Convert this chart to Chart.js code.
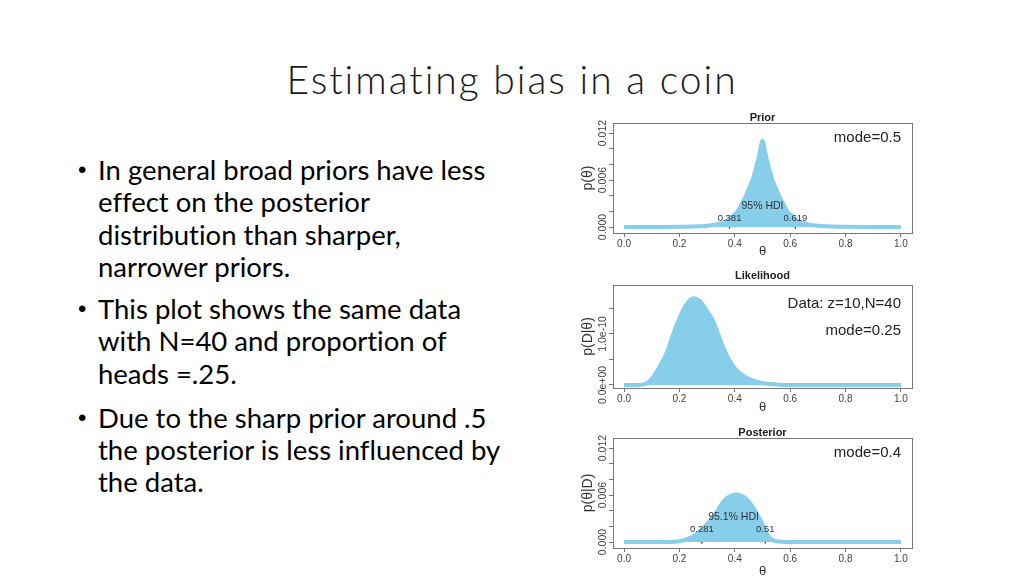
<!DOCTYPE html>
<html lang="en">
<head>
<meta charset="UTF-8">
<title>Estimating bias in a coin</title>
<script src="https://cdn.jsdelivr.net/npm/chart.js"></script>
<style>
  body { margin: 0; width: 1024px; height: 576px; overflow: hidden; background: #fff; position: relative;
         font-family: Lato, "Open Sans", sans-serif; font-variant-ligatures: none; }
  #title { position: absolute; left: 0; width: 1024px; top: 55.5px; text-align: center; font-size: 39px;
           letter-spacing: 2px; font-weight: 300; line-height: 1.2; color: #1a1a1a; white-space: nowrap; }
  .para { position: absolute; left: 98px; font-size: 27.5px; line-height: 32.3px; color: #000; white-space: nowrap; }
  .para::before { content: '\2022'; position: absolute; left: -20px; font-family: Arial, "Liberation Sans", sans-serif; font-size: 24px; }
  .plot { position: absolute; left: 580px; }
</style>
</head>
<body>
  <div id="title">Estimating bias in a coin</div>

  <div class="para" style="top:154px">In general broad priors have less<br>effect on the posterior<br>distribution than sharper,<br>narrower priors.</div>
  <div class="para" style="top:293px">This plot shows the same data<br>with N=40 and proportion of<br>heads =.25.</div>
  <div class="para" style="top:401.5px">Due to the sharp prior around .5<br>the posterior is less influenced by<br>the data.</div>

  <canvas id="priorChart" class="plot" width="340" height="150" style="top:110px"></canvas>
  <canvas id="likChart" class="plot" width="340" height="150" style="top:265px"></canvas>
  <canvas id="postChart" class="plot" width="340" height="151" style="top:425px"></canvas>

<script>
  // values
  const xTicks = [0, 0.2, 0.4, 0.6, 0.8, 1.0];

  const thetaPrior = [0, 0.1, 0.2, 0.25, 0.3, 0.33, 0.37, 0.39, 0.41, 0.44, 0.465, 0.48, 0.49,
                      0.5, 0.51, 0.52, 0.535, 0.56, 0.59, 0.61, 0.63, 0.67, 0.7, 0.75, 0.8, 0.9, 1.0];
  const priorVals = [0, 0.00001, 0.00003, 0.00006, 0.00015, 0.0003, 0.0007, 0.0013, 0.0020, 0.0040, 0.0061, 0.0080, 0.0095,
                     0.0110, 0.0095, 0.0080, 0.0061, 0.0040, 0.0020, 0.0013, 0.0007, 0.0003, 0.00015, 0.00006, 0.00003, 0.00001, 0];
  const priorHdi = [0.381, 0.619];

  const thetaLik = [0, 0.05, 0.08, 0.1, 0.125, 0.155, 0.175, 0.2, 0.225, 0.25, 0.275, 0.3, 0.32, 0.34,
                    0.365, 0.4, 0.45, 0.5, 0.55, 0.6, 0.8, 1.0];
  const likVals = [0, 0, 0.03e-10, 0.12e-10, 0.33e-10, 0.64e-10, 0.96e-10, 1.31e-10, 1.58e-10, 1.70e-10, 1.64e-10, 1.45e-10, 1.27e-10, 1.0e-10,
                   0.65e-10, 0.33e-10, 0.12e-10, 0.04e-10, 0.01e-10, 0, 0, 0];

  const thetaPost = [0, 0.15, 0.2, 0.25, 0.29, 0.33, 0.36, 0.38, 0.405, 0.43, 0.45, 0.48, 0.505, 0.52, 0.55, 0.6, 0.8, 1.0];
  const postVals = [0, 0, 0.0001, 0.0007, 0.0019, 0.0036, 0.0052, 0.0058, 0.0061, 0.0058, 0.0052, 0.0036, 0.0019, 0.0008, 0.0001, 0, 0, 0];
  const postHdi = [0.281, 0.51];

  const pTicks = [0, 0.002, 0.004, 0.006, 0.008, 0.010, 0.012];
  const pLabels = ['0.000', '', '', '0.006', '', '', '0.012'];
  const lTicks = [0, 0.5e-10, 1.0e-10, 1.5e-10];
  const lLabels = ['0.0e+00', '', '1.0e-10', ''];

  const sky = 'rgb(135, 206, 235)';
  const axisGray = '#777';
  const fam = '"Liberation Sans", Arial, sans-serif';

  // frame, rotated y labels, notes and HDI text
  const rDecor = {
    id: 'rDecor',
    afterDraw(chart, args, opts) {
      const { ctx, chartArea: a, scales: { x, y } } = chart;
      ctx.save();
      ctx.strokeStyle = axisGray;
      ctx.lineWidth = 1;
      ctx.strokeRect(Math.round(a.left) + 0.5, Math.round(a.top) + 0.5, Math.round(a.right - a.left), Math.round(a.bottom - a.top));

      ctx.fillStyle = '#444';
      ctx.font = '10.5px ' + fam;
      ctx.textAlign = 'center';
      ctx.textBaseline = 'middle';
      opts.yTicks.forEach((v, i) => {
        if (!opts.yLabels[i]) return;
        ctx.save();
        ctx.translate(a.left - 9.5, y.getPixelForValue(v));
        ctx.rotate(-Math.PI / 2);
        ctx.fillText(opts.yLabels[i], 0, 0);
        ctx.restore();
      });

      ctx.fillStyle = '#222';
      ctx.font = '15px ' + fam;
      ctx.textAlign = 'right';
      opts.notes.forEach(n => ctx.fillText(n.text, a.right - 11, a.top + n.dy));

      if (opts.hdi) {
        const h = opts.hdi;
        ctx.textAlign = 'center';
        ctx.font = '10.5px ' + fam;
        ctx.fillStyle = '#333';
        ctx.fillText(h.label, x.getPixelForValue((h.range[0] + h.range[1]) / 2), y.getPixelForValue(h.labelY));
        ctx.font = '9.5px ' + fam;
        h.range.forEach(v => ctx.fillText(String(v), x.getPixelForValue(v), y.getPixelForValue(h.numY)));
      }
      ctx.restore();
    }
  };

  function makeChart(id, cfg) {
    const canvas = document.getElementById(id);
    const datasets = [{
      data: cfg.theta.map((t, i) => ({ x: t, y: cfg.vals[i] })),
      borderColor: sky,
      backgroundColor: sky,
      borderWidth: 4,
      borderJoinStyle: 'round',
      fill: 'origin',
      pointRadius: 0,
      cubicInterpolationMode: 'monotone'
    }];
    if (cfg.hdi) {
      const [lo, hi] = cfg.hdi.range;
      const hy = cfg.hdi.barY;
      datasets.push({ data: [{ x: lo, y: hy }, { x: hi, y: hy }], borderColor: '#222', borderWidth: 1, pointRadius: 0, fill: false });
      [lo, hi].forEach(v => datasets.push({
        data: [{ x: v, y: -0.0002 }, { x: v, y: hy }],
        borderColor: '#222', borderWidth: 1.3, borderDash: [3, 2], pointRadius: 0, fill: false
      }));
    }
    return new Chart(canvas, {
      type: 'line',
      data: { datasets },
      options: {
        responsive: false,
        animation: false,
        layout: { padding: { left: 0, right: 8, top: 0, bottom: 0 } },
        scales: {
          x: {
            type: 'linear', min: -0.04, max: 1.04,
            afterBuildTicks: s => { s.ticks = xTicks.map(v => ({ value: v })); },
            afterFit: s => { s.height = canvas.height - 123; },
            ticks: { callback: v => v.toFixed(1), font: { size: 10, family: fam }, color: '#444', padding: 1, autoSkip: false, maxRotation: 0 },
            grid: { drawOnChartArea: false, drawTicks: true, tickLength: 4, color: axisGray },
            border: { color: axisGray },
            title: { display: true, text: 'θ', font: { size: 13, family: fam }, color: '#333', padding: { top: 0, bottom: cfg.xTitlePad } }
          },
          y: {
            type: 'linear', min: cfg.yMin, max: cfg.yMax,
            afterBuildTicks: s => { s.ticks = cfg.yTicks.map(v => ({ value: v })); },
            afterFit: s => { s.width = 33; },
            ticks: { display: false },
            grid: { drawOnChartArea: false, drawTicks: true, tickLength: 4, color: axisGray },
            border: { color: axisGray },
            title: { display: true, text: cfg.yTitle, font: { size: 14, family: fam }, color: '#333', padding: 0 }
          }
        },
        plugins: {
          legend: { display: false },
          tooltip: { enabled: false },
          title: {
            display: true, fullSize: false, text: cfg.title, color: '#222',
            font: { size: 11, weight: 'bold', family: fam, lineHeight: 1 },
            padding: cfg.titlePad
          },
          rDecor: { yTicks: cfg.yTicks, yLabels: cfg.yLabels, notes: cfg.notes, hdi: cfg.hdi }
        }
      },
      plugins: [rDecor]
    });
  }

  makeChart('priorChart', {
    title: 'Prior', titlePad: { top: 2, bottom: 0 },
    theta: thetaPrior, vals: priorVals,
    yMin: -0.000766, yMax: 0.01328, yTicks: pTicks, yLabels: pLabels, yTitle: 'p(θ)',
    notes: [{ text: 'mode=0.5', dy: 15 }],
    hdi: { range: priorHdi, barY: 0.00077, label: '95% HDI', labelY: 0.0027, numY: 0.00115 },
    xTitlePad: 1
  });

  makeChart('likChart', {
    title: 'Likelihood', titlePad: { top: 5, bottom: 4 },
    theta: thetaLik, vals: likVals,
    yMin: -0.059e-10, yMax: 1.96e-10, yTicks: lTicks, yLabels: lLabels, yTitle: 'p(D|θ)',
    notes: [{ text: 'Data: z=10,N=40', dy: 19 }, { text: 'mode=0.25', dy: 46 }],
    hdi: null,
    xTitlePad: 0
  });

  makeChart('postChart', {
    title: 'Posterior', titlePad: { top: 2, bottom: 0 },
    theta: thetaPost, vals: postVals,
    yMin: -0.000766, yMax: 0.01328, yTicks: pTicks, yLabels: pLabels, yTitle: 'p(θ|D)',
    notes: [{ text: 'mode=0.4', dy: 15 }],
    hdi: { range: postHdi, barY: 0.00128, label: '95.1% HDI', labelY: 0.0032, numY: 0.00166 },
    xTitlePad: -3
  });
</script>
</body>
</html>
